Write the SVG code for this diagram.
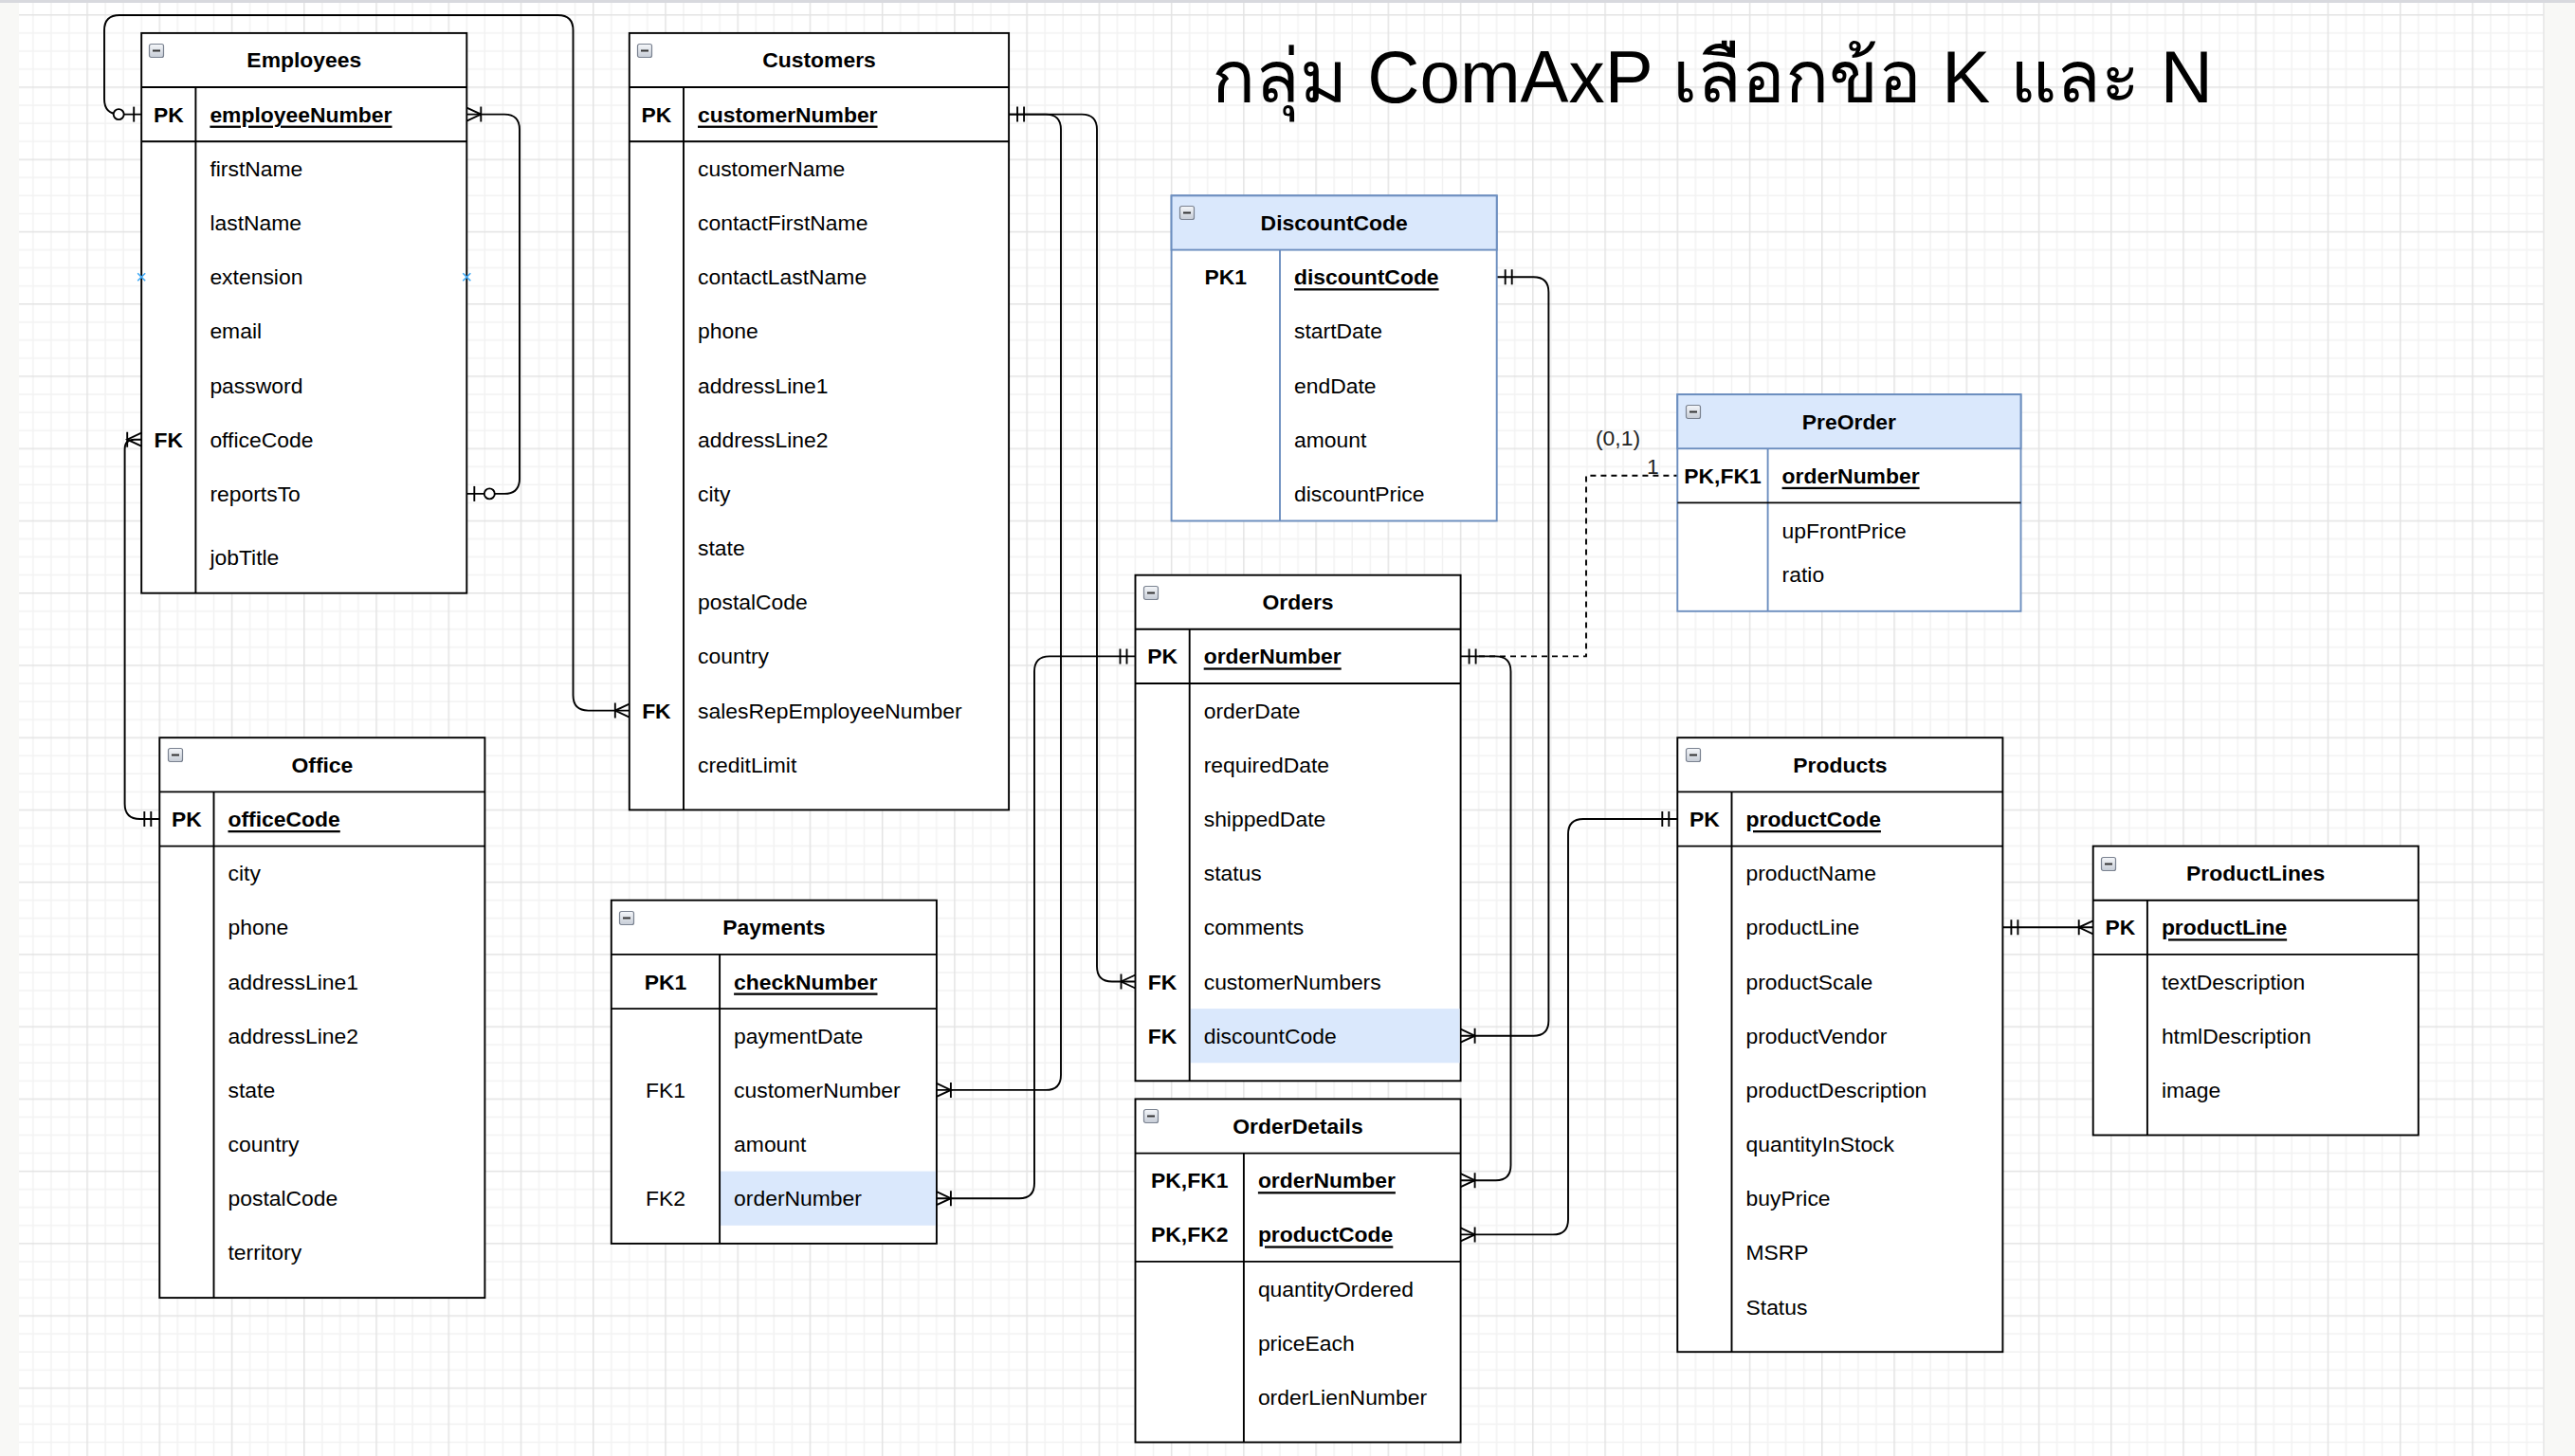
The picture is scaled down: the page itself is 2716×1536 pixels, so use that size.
<svg xmlns="http://www.w3.org/2000/svg" xmlns:xlink="http://www.w3.org/1999/xlink" width="2716" height="1536" viewBox="0 0 2716 1536">
<style>
.t{fill:#fff;stroke:#000;stroke-width:1.9}
.tb{fill:#fff;stroke:#6c8ebf;stroke-width:1.9}
.hb{fill:#dae8fc;stroke:#6c8ebf;stroke-width:1.9}
.l{stroke:#000;stroke-width:1.9;fill:none}
.lb{stroke:#6c8ebf;stroke-width:1.9;fill:none}
.hl{fill:#dae8fc}
text{font-family:'Liberation Sans',Arial,sans-serif;font-size:22.9px;fill:#000;dominant-baseline:central}
.h{font-weight:bold;text-anchor:middle}
.k{font-weight:bold;text-anchor:middle}
.kn{text-anchor:middle}
.pk{font-weight:bold;text-decoration:underline}
.c{fill:none;stroke:#000;stroke-width:1.9}
.d{fill:none;stroke:#000;stroke-width:1.9;stroke-dasharray:6 5}
.mk{fill:none;stroke:#000;stroke-width:1.9}
.title{font-size:78px;dominant-baseline:alphabetic;font-family:'Liberation Sans','Noto Sans','DejaVu Sans',sans-serif}
.lbl{fill:#222}
.hov{stroke:#3fa9f5;stroke-width:1.6;fill:none}
</style>
<defs>
<pattern id="grid" x="15.05" y="15.05" width="76.24" height="76.24" patternUnits="userSpaceOnUse">
<rect x="19.06" y="0" width="1.5" height="76.24" fill="#f2f2f2"/>
<rect x="38.12" y="0" width="1.5" height="76.24" fill="#f2f2f2"/>
<rect x="57.18" y="0" width="1.5" height="76.24" fill="#f2f2f2"/>
<rect x="0" y="19.06" width="76.24" height="1.5" fill="#f2f2f2"/>
<rect x="0" y="38.12" width="76.24" height="1.5" fill="#f2f2f2"/>
<rect x="0" y="57.18" width="76.24" height="1.5" fill="#f2f2f2"/>
<rect x="0" y="0" width="1.5" height="76.24" fill="#e3e3e3"/>
<rect x="0" y="0" width="76.24" height="1.5" fill="#e3e3e3"/>
</pattern>
<linearGradient id="cg" x1="0" y1="0" x2="0" y2="1">
<stop offset="0" stop-color="#f5f7fa"/>
<stop offset="1" stop-color="#c6ccd6"/>
</linearGradient>
<g id="col"><rect x="0.5" y="0.5" width="15" height="14" rx="2" fill="url(#cg)" stroke="#7a8290" stroke-width="1.2"/><path d="M4,7.5H12" stroke="#333" stroke-width="2"/></g>
<g id="mOne" class="mk"><path d="M9,-8V8M16,-8V8"/></g>
<g id="mMany" class="mk"><path d="M0,-7L15,0L0,7M15,-8V8"/></g>
<g id="mZeroOne" class="mk"><path d="M8,-8V8"/><circle cx="24" cy="0" r="5.5" fill="#fff"/></g>
</defs>

<rect x="0" y="0" width="2716" height="1536" fill="#fff"/>
<rect x="0" y="0" width="2716" height="1536" fill="url(#grid)"/>
<rect x="0" y="0" width="20" height="1536" fill="#f8f8f6"/>
<rect x="2683" y="0" width="33" height="1536" fill="#f8f8f6"/>
<path d="M2683,0V1536" stroke="#e6e6e6" stroke-width="1.5"/>
<rect x="0" y="0" width="2716" height="3" fill="#d8d9de"/>

<text class="title" x="1278" y="108" textLength="1056" lengthAdjust="spacingAndGlyphs">กลุ่ม ComAxP เลือกข้อ K และ N</text>

<g id="connectors">
<path class="c" d="M492.3,120.6H532Q548,120.6 548,136.6V504.9Q548,520.9 532,520.9H492.3"/>
<path class="c" d="M149.2,120.6H126Q110,120.6 110,104.6V32Q110,16 126,16H588.5Q604.5,16 604.5,32V733.6Q604.5,749.6 620.5,749.6H663.8"/>
<path class="c" d="M168.3,864H147.6Q131.6,864 131.6,848V473.7Q131.6,463.7 141.6,463.7H149.2"/>
<path class="c" d="M1064.1,120.6H1103Q1119,120.6 1119,136.6V1133.9Q1119,1149.9 1103,1149.9H987.9"/>
<path class="c" d="M1064.1,120.6H1141Q1157,120.6 1157,136.6V1019.5Q1157,1035.5 1173,1035.5H1197.5"/>
<path class="c" d="M1197.5,692.4H1107Q1091,692.4 1091,708.4V1248.2Q1091,1264.2 1075,1264.2H987.9"/>
<path class="c" d="M1578.7,292.2H1617.4Q1633.4,292.2 1633.4,308.2V1076.7Q1633.4,1092.7 1617.4,1092.7H1540.6"/>
<path class="c" d="M1540.6,692.4H1577.5Q1593.5,692.4 1593.5,708.4V1229.2Q1593.5,1245.2 1577.5,1245.2H1540.6"/>
<path class="d" d="M1560,692.4H1673V501.8H1769.3"/>
<path class="c" d="M1769.3,864H1670Q1654,864 1654,880V1286.4Q1654,1302.4 1638,1302.4H1540.6"/>
<path class="c" d="M2112.4,978.3H2207.7"/>
<use href="#mMany" transform="translate(492.3,120.6)"/>
<use href="#mZeroOne" transform="translate(492.3,520.9)"/>
<use href="#mZeroOne" transform="translate(149.2,120.6) scale(-1,1)"/>
<use href="#mMany" transform="translate(663.8,749.6) scale(-1,1)"/>
<use href="#mOne" transform="translate(168.3,864) scale(-1,1)"/>
<use href="#mMany" transform="translate(149.2,463.7) scale(-1,1)"/>
<use href="#mOne" transform="translate(1064.1,120.6)"/>
<use href="#mMany" transform="translate(987.9,1149.9)"/>
<use href="#mMany" transform="translate(1197.5,1035.5) scale(-1,1)"/>
<use href="#mOne" transform="translate(1197.5,692.4) scale(-1,1)"/>
<use href="#mMany" transform="translate(987.9,1264.2)"/>
<use href="#mOne" transform="translate(1578.7,292.2)"/>
<use href="#mMany" transform="translate(1540.6,1092.7)"/>
<use href="#mOne" transform="translate(1540.6,692.4)"/>
<use href="#mMany" transform="translate(1540.6,1245.2)"/>
<use href="#mOne" transform="translate(1769.3,864) scale(-1,1)"/>
<use href="#mMany" transform="translate(1540.6,1302.4)"/>
<use href="#mOne" transform="translate(2112.4,978.3)"/>
<use href="#mMany" transform="translate(2207.7,978.3) scale(-1,1)"/>
<text class="lbl" x="1683" y="462">(0,1)</text>
<text class="lbl" x="1737" y="492">1</text>
</g>

<g id="employees">
<rect class="t" x="149.2" y="34.9" width="343.1" height="590.8"/>
<path class="l" d="M149.2,92H492.3M149.2,149.2H492.3M206.4,92V625.7"/>
<use href="#col" x="157" y="46"/>
<text class="h" x="320.8" y="63.4">Employees</text>
<text class="k" x="177.8" y="120.6">PK</text>
<text class="pk" x="221.4" y="120.6">employeeNumber</text>
<text x="221.4" y="177.8">firstName</text>
<text x="221.4" y="235">lastName</text>
<text x="221.4" y="292.2">extension</text>
<text x="221.4" y="349.4">email</text>
<text x="221.4" y="406.5">password</text>
<text class="k" x="177.8" y="463.7">FK</text>
<text x="221.4" y="463.7">officeCode</text>
<text x="221.4" y="520.9">reportsTo</text>
<text x="221.4" y="587.6">jobTitle</text>
<path class="hov" d="M145.2,288.2l8,8M153.2,288.2l-8,8M488.3,288.2l8,8M496.3,288.2l-8,8"/>
</g>

<g id="customers">
<rect class="t" x="663.8" y="34.9" width="400.3" height="819.5"/>
<path class="l" d="M663.8,92H1064.1M663.8,149.2H1064.1M721,92V854.4"/>
<use href="#col" x="672" y="46"/>
<text class="h" x="864" y="63.4">Customers</text>
<text class="k" x="692.4" y="120.6">PK</text>
<text class="pk" x="736" y="120.6">customerNumber</text>
<text x="736" y="177.8">customerName</text>
<text x="736" y="235">contactFirstName</text>
<text x="736" y="292.2">contactLastName</text>
<text x="736" y="349.4">phone</text>
<text x="736" y="406.5">addressLine1</text>
<text x="736" y="463.7">addressLine2</text>
<text x="736" y="520.9">city</text>
<text x="736" y="578.1">state</text>
<text x="736" y="635.3">postalCode</text>
<text x="736" y="692.4">country</text>
<text class="k" x="692.4" y="749.6">FK</text>
<text x="736" y="749.6">salesRepEmployeeNumber</text>
<text x="736" y="806.8">creditLimit</text>
</g>

<g id="discountcode">
<rect class="tb" x="1235.6" y="206.4" width="343.1" height="343.1"/>
<rect class="hb" x="1235.6" y="206.4" width="343.1" height="57.2"/>
<path class="lb" d="M1350,263.6V549.5"/>
<use href="#col" x="1244" y="217"/>
<text class="h" x="1407.2" y="235">DiscountCode</text>
<text class="k" x="1292.8" y="292.2">PK1</text>
<text class="pk" x="1365" y="292.2">discountCode</text>
<text x="1365" y="349.4">startDate</text>
<text x="1365" y="406.5">endDate</text>
<text x="1365" y="463.7">amount</text>
<text x="1365" y="520.9">discountPrice</text>
</g>

<g id="preorder">
<rect class="tb" x="1769.3" y="416.1" width="362.2" height="228.7"/>
<rect class="hb" x="1769.3" y="416.1" width="362.2" height="57.1"/>
<path class="lb" d="M1864.6,473.2V644.8"/>
<path class="l" d="M1769.3,530.4H2131.5"/>
<use href="#col" x="1778" y="427"/>
<text class="h" x="1950.4" y="444.7">PreOrder</text>
<text class="k" x="1817" y="501.8">PK,FK1</text>
<text class="pk" x="1879.6" y="501.8">orderNumber</text>
<text x="1879.6" y="559.5">upFrontPrice</text>
<text x="1879.6" y="606.2">ratio</text>
</g>

<g id="orders">
<rect class="t" x="1197.5" y="606.7" width="343.1" height="533.6"/>
<rect class="hl" x="1255.6" y="1064.1" width="284" height="57.2"/>
<path class="l" d="M1197.5,663.8H1540.6M1197.5,721H1540.6M1254.7,663.8V1140.3"/>
<use href="#col" x="1206" y="618"/>
<text class="h" x="1369" y="635.2">Orders</text>
<text class="k" x="1226.1" y="692.4">PK</text>
<text class="pk" x="1269.7" y="692.4">orderNumber</text>
<text x="1269.7" y="749.6">orderDate</text>
<text x="1269.7" y="806.8">requiredDate</text>
<text x="1269.7" y="864">shippedDate</text>
<text x="1269.7" y="921.2">status</text>
<text x="1269.7" y="978.3">comments</text>
<text class="k" x="1226.1" y="1035.5">FK</text>
<text x="1269.7" y="1035.5">customerNumbers</text>
<text class="k" x="1226.1" y="1092.7">FK</text>
<text x="1269.7" y="1092.7">discountCode</text>
</g>

<g id="orderdetails">
<rect class="t" x="1197.5" y="1159.4" width="343.1" height="362.1"/>
<path class="l" d="M1197.5,1216.6H1540.6M1197.5,1330.9H1540.6M1311.9,1216.6V1521.5"/>
<use href="#col" x="1206" y="1170"/>
<text class="h" x="1369" y="1188">OrderDetails</text>
<text class="k" x="1254.7" y="1245.2">PK,FK1</text>
<text class="pk" x="1326.9" y="1245.2">orderNumber</text>
<text class="k" x="1254.7" y="1302.4">PK,FK2</text>
<text class="pk" x="1326.9" y="1302.4">productCode</text>
<text x="1326.9" y="1359.5">quantityOrdered</text>
<text x="1326.9" y="1416.7">priceEach</text>
<text x="1326.9" y="1473.9">orderLienNumber</text>
</g>

<g id="office">
<rect class="t" x="168.3" y="778.2" width="343.1" height="590.9"/>
<path class="l" d="M168.3,835.4H511.4M168.3,892.6H511.4M225.5,835.4V1369.1"/>
<use href="#col" x="177" y="789"/>
<text class="h" x="339.9" y="806.8">Office</text>
<text class="k" x="196.9" y="864">PK</text>
<text class="pk" x="240.5" y="864">officeCode</text>
<text x="240.5" y="921.2">city</text>
<text x="240.5" y="978.3">phone</text>
<text x="240.5" y="1035.5">addressLine1</text>
<text x="240.5" y="1092.7">addressLine2</text>
<text x="240.5" y="1149.9">state</text>
<text x="240.5" y="1207.1">country</text>
<text x="240.5" y="1264.2">postalCode</text>
<text x="240.5" y="1321.4">territory</text>
</g>

<g id="payments">
<rect class="t" x="644.8" y="949.7" width="343.1" height="362.2"/>
<rect class="hl" x="760" y="1235.6" width="227" height="57.2"/>
<path class="l" d="M644.8,1006.9H987.9M644.8,1064.1H987.9M759.1,1006.9V1311.9"/>
<use href="#col" x="653" y="961"/>
<text class="h" x="816.4" y="978.3">Payments</text>
<text class="k" x="702" y="1035.5">PK1</text>
<text class="pk" x="774.1" y="1035.5">checkNumber</text>
<text x="774.1" y="1092.7">paymentDate</text>
<text class="kn" x="702" y="1149.9">FK1</text>
<text x="774.1" y="1149.9">customerNumber</text>
<text x="774.1" y="1207.1">amount</text>
<text class="kn" x="702" y="1264.2">FK2</text>
<text x="774.1" y="1264.2">orderNumber</text>
</g>

<g id="products">
<rect class="t" x="1769.3" y="778.2" width="343.1" height="648"/>
<path class="l" d="M1769.3,835.4H2112.4M1769.3,892.6H2112.4M1826.5,835.4V1426.2"/>
<use href="#col" x="1778" y="789"/>
<text class="h" x="1940.9" y="806.8">Products</text>
<text class="k" x="1797.9" y="864">PK</text>
<text class="pk" x="1841.5" y="864">productCode</text>
<text x="1841.5" y="921.2">productName</text>
<text x="1841.5" y="978.3">productLine</text>
<text x="1841.5" y="1035.5">productScale</text>
<text x="1841.5" y="1092.7">productVendor</text>
<text x="1841.5" y="1149.9">productDescription</text>
<text x="1841.5" y="1207.1">quantityInStock</text>
<text x="1841.5" y="1264.2">buyPrice</text>
<text x="1841.5" y="1321.4">MSRP</text>
<text x="1841.5" y="1378.6">Status</text>
</g>

<g id="productlines">
<rect class="t" x="2207.7" y="892.6" width="343.1" height="304.9"/>
<path class="l" d="M2207.7,949.7H2550.8M2207.7,1006.9H2550.8M2264.9,949.7V1197.5"/>
<use href="#col" x="2216" y="904"/>
<text class="h" x="2379.2" y="921.2">ProductLines</text>
<text class="k" x="2236.3" y="978.3">PK</text>
<text class="pk" x="2279.9" y="978.3">productLine</text>
<text x="2279.9" y="1035.5">textDescription</text>
<text x="2279.9" y="1092.7">htmlDescription</text>
<text x="2279.9" y="1149.9">image</text>
</g>
</svg>
